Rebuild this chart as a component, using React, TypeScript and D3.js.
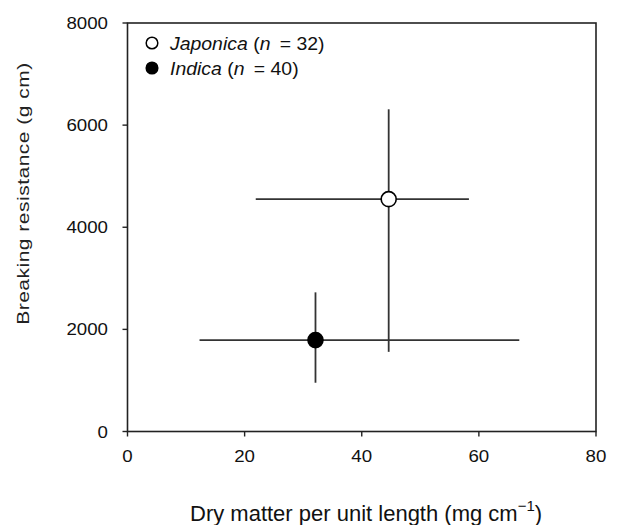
import React from "react";
import * as d3 from "d3";

const groups = ["Japonica", "Indica"];
const groupN = [32, 40];
const groupFill = ["#ffffff", "#000000"];
const xMean = [44.6, 32.1];
const xLow = [21.9, 12.3];
const xHigh = [58.3, 66.9];
const yMean = [4550, 1790];
const yLow = [1560, 955];
const yHigh = [6310, 2725];
const xTicks = [0, 20, 40, 60, 80];
const yTicks = [0, 2000, 4000, 6000, 8000];

const W = 620;
const H = 525;
const FONT = "'Liberation Sans', Arial, Helvetica, sans-serif";

export default function App() {
  const x = d3.scaleLinear().domain([0, 80]).range([127.5, 596]);
  const y = d3.scaleLinear().domain([0, 8000]).range([431.5, 23]);
  const ink = "#222";
  const [x0, x1] = x.range();
  const [y0, y1] = y.range();

  return (
    <svg
      width={W}
      height={H}
      style={{ position: "absolute", left: 0, top: 0, background: "#fff" }}
      fontFamily={FONT}
    >
      <rect x={0} y={0} width={W} height={H} fill="#fff" />
      {/* frame */}
      <rect x={x0} y={y1} width={x1 - x0} height={y0 - y1} fill="none" stroke={ink} strokeWidth={1.6} />
      {/* y ticks */}
      {yTicks.map((t) => (
        <g key={"y" + t}>
          <line x1={x0 - 5} x2={x0} y1={y(t)} y2={y(t)} stroke={ink} strokeWidth={1.4} />
          <text
            transform={`translate(108,${y(t) + 6}) scale(1.1,1)`}
            fontSize={17}
            textAnchor="end"
            fill="#111"
          >
            {t}
          </text>
        </g>
      ))}
      {/* x ticks */}
      {xTicks.map((t) => (
        <g key={"x" + t}>
          <line x1={x(t)} x2={x(t)} y1={y0} y2={y0 + 5} stroke={ink} strokeWidth={1.4} />
          <text
            transform={`translate(${x(t)},462) scale(1.1,1)`}
            fontSize={17}
            textAnchor="middle"
            fill="#111"
          >
            {t}
          </text>
        </g>
      ))}
      {/* axis titles */}
      <text x={190} y={521} fontSize={22} fill="#111">
        Dry matter per unit length (mg cm
        <tspan fontSize={15} dy={-10}>−1</tspan>
        <tspan dy={10}>)</tspan>
      </text>
      <text
        transform={`translate(29,193.5) rotate(-90) scale(1,0.78)`}
        fontSize={21}
        letterSpacing={0.5}
        textAnchor="middle"
        fill="#222"
      >
        Breaking resistance (g cm)
      </text>
      {/* error bars */}
      {groups.map((g, i) => (
        <g key={"e" + g} stroke="#333" strokeWidth={1.8}>
          <line x1={x(xLow[i])} x2={x(xHigh[i])} y1={y(yMean[i])} y2={y(yMean[i])} />
          <line x1={x(xMean[i])} x2={x(xMean[i])} y1={y(yLow[i])} y2={y(yHigh[i])} />
        </g>
      ))}
      {/* markers */}
      {groups.map((g, i) => (
        <circle
          key={"m" + g}
          cx={x(xMean[i])}
          cy={y(yMean[i])}
          r={7.5}
          fill={groupFill[i]}
          stroke="#000"
          strokeWidth={1.6}
        />
      ))}
      {/* legend */}
      {groups.map((g, i) => (
        <g key={"l" + g}>
          <circle cx={152} cy={43 + i * 25} r={5.8} fill={groupFill[i]} stroke="#000" strokeWidth={1.5} />
          <text
            transform={`translate(170,${49.5 + i * 25}) scale(1.08,1)`}
            fontSize={18}
            fill="#111"
          >
            <tspan fontStyle="italic">{g}</tspan>
            <tspan>{"  ("}</tspan>
            <tspan fontStyle="italic">n</tspan>
            <tspan>{" \u2009= " + groupN[i] + ")"}</tspan>
          </text>
        </g>
      ))}
    </svg>
  );
}
